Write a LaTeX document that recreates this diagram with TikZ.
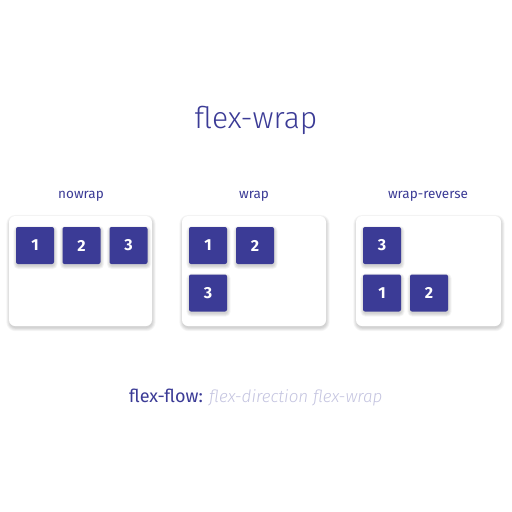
\documentclass[tikz,border=0pt]{standalone}
\usepackage{fontspec}
\setmainfont{Fira Sans}
\newfontfamily\lightfont{Fira Sans Light}
\definecolor{indigo}{HTML}{3B3B96}
\definecolor{lav}{HTML}{C4C4E0}
\tikzset{
  panel/.style={fill=white, rounded corners=6pt},
  item/.style={fill=indigo, rounded corners=2pt, minimum width=38pt, minimum height=37pt, inner sep=0pt, text=white, font=\fontsize{16}{16}\selectfont\bfseries},
  lbl/.style={text=indigo, font=\fontsize{13.5}{13.5}\selectfont, inner sep=0pt}
}
\newcommand{\softshadow}[5]{% x1 y1 x2 y2 radius
  \foreach \s in {0,0.8,1.6,2.4,3.2}{
    \fill[black, opacity=0.035, rounded corners=#5+\s] (#1-\s+0.5,#2-\s+2) rectangle (#3+\s+0.5,#4+\s+2);
  }
}
\begin{document}
\begin{tikzpicture}[x=1pt,y=-1pt]
\fill[white] (0,0) rectangle (512,512);
\useasboundingbox (0,0) rectangle (512,512);
\node[text=indigo, font=\lightfont\fontsize{30}{30}\selectfont, inner sep=0pt] (title) at (256,120) {flex-wrap};
% labels
\node[lbl] (l1) at (81,196) {nowrap};
\node[lbl] (l2) at (254,196) {wrap};
\node[lbl] (l3) at (428,196) {wrap-reverse};
% panels
\softshadow{9}{216}{152}{326}{6pt}
\softshadow{182}{216}{326}{326}{6pt}
\softshadow{356}{216}{501}{326}{6pt}
\path[panel] (9,216) rectangle (152,326);
\path[panel] (182,216) rectangle (326,326);
\path[panel] (356,216) rectangle (501,326);
% item shadows
\foreach \x/\y in {35/245.5,81.5/245.5,128.5/245.5,208/245.5,255/245.5,208/293,382/245.5,382/293,429/293}{
  \softshadow{\x-19}{\y-18.5}{\x+19}{\y+18.5}{2pt}
}
% panel 1
\node[item] (a1) at (35,245.5) {1};
\node[item] (a2) at (81.5,245.5) {2};
\node[item] (a3) at (128.5,245.5) {3};
% panel 2
\node[item] (b1) at (208,245.5) {1};
\node[item] (b2) at (255,245.5) {2};
\node[item] (b3) at (208,293) {3};
% panel 3
\node[item] (c3) at (382,245.5) {3};
\node[item] (c1) at (382,293) {1};
\node[item] (c2) at (429,293) {2};
% bottom
\node[anchor=base west, inner sep=0pt] (ff) at (129,402) {\fontsize{18}{18}\selectfont\color{indigo}flex-flow: \lightfont\fontsize{17}{17}\selectfont\color{lav}\itshape flex-direction flex-wrap};
\end{tikzpicture}
\end{document}
